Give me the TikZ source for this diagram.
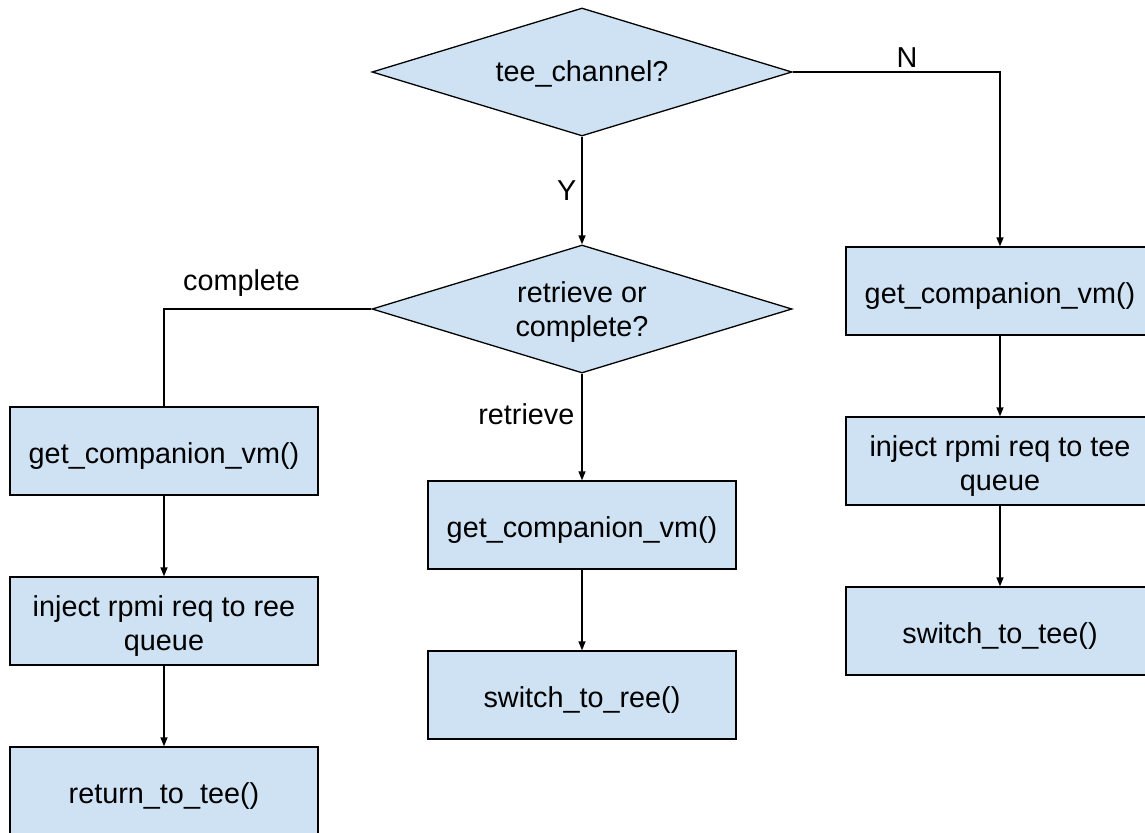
\documentclass[tikz,border=0pt]{standalone}
\usepackage{fontspec}
\setmainfont{Liberation Sans}
\usetikzlibrary{shapes.geometric,arrows.meta}
\definecolor{boxfill}{HTML}{CFE2F3}
\tikzset{
  every node/.style={font=\fontsize{28.8}{34}\selectfont},
  stepbox/.style={draw=black, fill=boxfill, line width=1.3pt, rectangle,
    minimum width=308pt, minimum height=88pt, inner sep=0pt, align=center,
    text height=25pt, text depth=0pt},
  twoline/.style={text height=58.6pt, text depth=0pt},
  choice/.style={draw=black, fill=boxfill, line width=1.3pt, diamond,
    aspect=3.28, minimum width=420pt, minimum height=128pt, inner sep=0pt, align=center},
  flow/.style={line width=1.3pt, -{Triangle[length=9pt,width=7pt]}},
  plain/.style={line width=1.3pt},
  lbl/.style={inner sep=0pt}
}
\begin{document}
\begin{tikzpicture}[x=1pt,y=-1pt]
\useasboundingbox (0,0) rectangle (1145,832);

% decisions
\node[choice, text height=20pt, text depth=0pt] (d1) at (582,72) {tee\_channel?};
\node[choice, text height=55.6pt, text depth=0pt] (d2) at (582,309) {retrieve or\\complete?};

% left column (complete)
\node[stepbox] (l1) at (164,451) {get\_companion\_vm()};
\node[stepbox, twoline] (l2) at (164,621) {inject rpmi req to ree\\queue};
\node[stepbox] (l3) at (164,791) {return\_to\_tee()};

% middle column (retrieve)
\node[stepbox] (m1) at (582,525) {get\_companion\_vm()};
\node[stepbox] (m2) at (582,695) {switch\_to\_ree()};

% right column (N)
\node[stepbox] (r1) at (1000,291) {get\_companion\_vm()};
\node[stepbox, twoline] (r2) at (1000,461) {inject rpmi req to tee\\queue};
\node[stepbox] (r3) at (1000,631) {switch\_to\_tee()};

% connectors
\draw[flow] (d1.south) -- node[lbl, midway, anchor=east, xshift=-5pt] {Y} (d2.north);
\draw[flow] (d1.east) -| node[lbl, pos=0.276, anchor=base, yshift=4pt] {N} (r1.north);
\draw[plain] (d2.west) -| node[lbl, pos=0.313, anchor=base, yshift=19pt] {complete} (l1.north);
\draw[flow] (d2.south) -- node[lbl, pos=0.38, anchor=east, xshift=-7pt] {retrieve} (m1.north);

\draw[flow] (l1.south) -- (l2.north);
\draw[flow] (l2.south) -- (l3.north);
\draw[flow] (m1.south) -- (m2.north);
\draw[flow] (r1.south) -- (r2.north);
\draw[flow] (r2.south) -- (r3.north);
\end{tikzpicture}
\end{document}
